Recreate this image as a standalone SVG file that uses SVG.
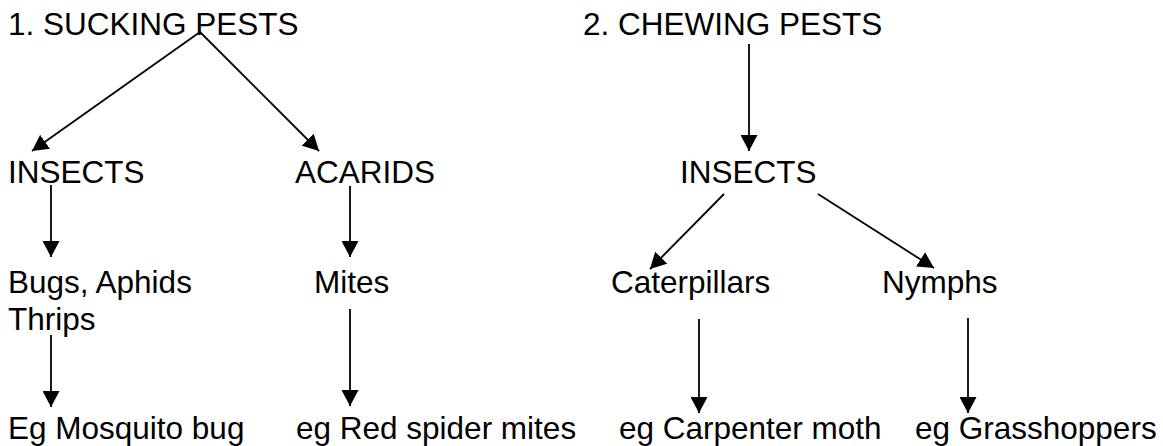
<svg xmlns="http://www.w3.org/2000/svg" width="1163" height="446" viewBox="0 0 1163 446">
  <style>
    text { font-family: "Liberation Sans", Arial, sans-serif; font-size: 31.5px; fill: #000; }
    .c { stroke: #000; stroke-width: 1.8; fill: none; marker-end: url(#ah); }
  </style>
  <defs>
    <marker id="ah" markerUnits="userSpaceOnUse" markerWidth="17" markerHeight="17" refX="16" refY="8.5" orient="auto" viewBox="0 0 17 17">
      <path d="M0,0 L16,8.5 L0,17 Z" fill="#000"/>
    </marker>
  </defs>
  <rect width="1163" height="446" fill="#fff"/>
  <g id="connectors">
    <line class="c" x1="200" y1="32" x2="32" y2="151"/>
    <line class="c" x1="200" y1="32" x2="319" y2="151"/>
    <line class="c" x1="51" y1="185" x2="51" y2="257"/>
    <line class="c" x1="51" y1="335" x2="51" y2="407"/>
    <line class="c" x1="350" y1="186" x2="350" y2="257"/>
    <line class="c" x1="350" y1="309" x2="350" y2="406"/>
    <line class="c" x1="749" y1="44" x2="749" y2="151"/>
    <line class="c" x1="724" y1="194" x2="650" y2="269"/>
    <line class="c" x1="818" y1="194" x2="934" y2="268"/>
    <line class="c" x1="699" y1="319" x2="699" y2="413"/>
    <line class="c" x1="968" y1="318" x2="968" y2="413"/>
  </g>
  <g id="sucking"><text x="8" y="35">1. SUCKING PESTS</text></g>
  <g id="chewing"><text x="583" y="35">2. CHEWING PESTS</text></g>
  <g id="insects1"><text x="8" y="183">INSECTS</text></g>
  <g id="acarids"><text x="295" y="183">ACARIDS</text></g>
  <g id="insects2"><text x="680" y="183">INSECTS</text></g>
  <g id="bugs"><text x="8" y="293">Bugs, Aphids</text><text x="8" y="330">Thrips</text></g>
  <g id="mites"><text x="314" y="293">Mites</text></g>
  <g id="caterpillars"><text x="611" y="293">Caterpillars</text></g>
  <g id="nymphs"><text x="882" y="293">Nymphs</text></g>
  <g id="mosquito"><text x="8" y="439">Eg Mosquito bug</text></g>
  <g id="redspider"><text x="296" y="439">eg Red spider mites</text></g>
  <g id="carpenter"><text x="619" y="439">eg Carpenter moth</text></g>
  <g id="grasshoppers"><text x="915" y="439">eg Grasshoppers</text></g>
</svg>
